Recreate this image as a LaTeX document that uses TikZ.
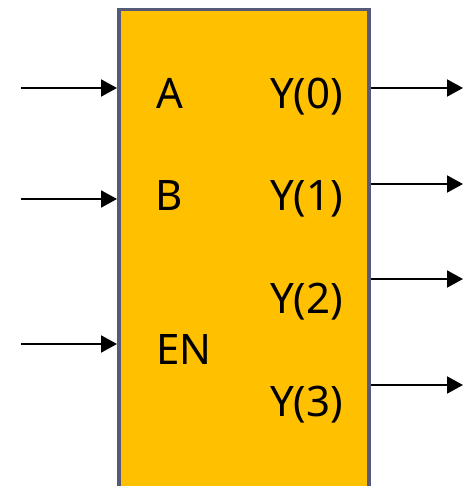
\documentclass[tikz,border=0pt]{standalone}
\usepackage{fontspec}
\setmainfont{Noto Sans}
\usetikzlibrary{arrows.meta}
\definecolor{blkfill}{HTML}{FFC000}
\definecolor{blkedge}{RGB}{86,90,120}
\tikzset{
  blkstyle/.style={draw=blkedge, fill=blkfill, line width=3.5pt, minimum width=250pt, minimum height=520pt, anchor=north west, inner sep=0pt},
  sig/.style={-{Triangle[length=16pt,width=17pt]}, line width=2pt, black},
  lbl/.style={anchor=base west, inner sep=0pt, font=\fontsize{42pt}{46pt}\selectfont}
}
\begin{document}
\begin{tikzpicture}[x=1pt,y=1pt]
\clip (0,0) rectangle (471,-486);
\fill[white] (0,0) rectangle (471,-486);
\node[blkstyle] (blk) at (117,-8) {};
% labels
\node[lbl] (la) at (156,-109) {A};
\node[lbl] (lb) at (155,-210) {B};
\node[lbl] (len) at (156,-364) {EN};
\node[lbl] (ly0) at (270,-109) {Y(0)};
\node[lbl] (ly1) at (270,-210) {Y(1)};
\node[lbl] (ly2) at (270,-313) {Y(2)};
\node[lbl] (ly3) at (270,-416) {Y(3)};
% input ends
\coordinate (ia) at (21,-88);
\coordinate (ib) at (21,-199);
\coordinate (ien) at (21,-344);
\draw[sig] (ia) -- (ia -| blk.west);
\draw[sig] (ib) -- (ib -| blk.west);
\draw[sig] (ien) -- (ien -| blk.west);
% output ends
\coordinate (o0) at (463,-88);
\coordinate (o1) at (463,-184);
\coordinate (o2) at (463,-279);
\coordinate (o3) at (463,-385);
\draw[sig] (o0 -| blk.east) -- (o0);
\draw[sig] (o1 -| blk.east) -- (o1);
\draw[sig] (o2 -| blk.east) -- (o2);
\draw[sig] (o3 -| blk.east) -- (o3);
\end{tikzpicture}
\end{document}
